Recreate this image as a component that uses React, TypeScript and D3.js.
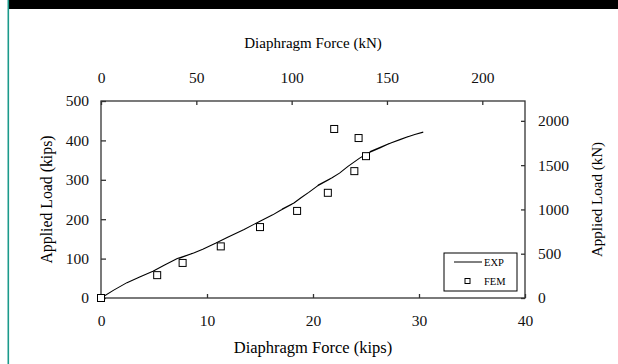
import React, {useEffect, useRef} from 'react';
import * as d3 from 'd3';

// EXP curve (diaphragm force kips, applied load kips), incl. small reload loops
const expForce = [0, 1.2, 2.45, 3.7, 4.9, 6.0, 7.2, 8.6, 7.4, 8.8, 9.6, 10.8, 12.0, 13.5, 15.0, 16.2, 16.9, 18.0, 17.1, 18.2, 18.9, 19.6, 20.4, 21.6, 20.5, 21.8, 22.5, 23.3, 24.4, 25.2, 26.3, 27.2, 25.4, 27.4, 28.2, 29.0, 28.6, 29.6, 30.4];
const expLoad = [0, 20, 39, 54, 68, 84, 100, 113, 101, 115, 124, 139, 155, 174, 195, 211, 222, 238, 226, 241, 255, 268, 284, 302, 287, 305, 317, 334, 355, 368, 381, 392, 372, 394, 402, 410, 406, 415, 421];

// FEM points
const femForce = [0, 5.3, 7.7, 11.3, 15.0, 18.5, 21.4, 22.0, 23.9, 24.3, 25.0];
const femLoad = [0, 58, 89, 131, 180, 221, 267, 429, 322, 406, 360];

const bottomTicks = [0, 10, 20, 30, 40];
const topTicks = [0, 50, 100, 150, 200];
const leftTicks = [0, 100, 200, 300, 400, 500];
const rightTicks = [0, 500, 1000, 1500, 2000];

const KN = 4.448;

export default function App() {
    const svgRef = useRef(null);

    useEffect(() => {
        document.body.style.margin = '0';
        document.body.style.overflow = 'hidden';
        document.documentElement.style.overflow = 'hidden';

        const W = 618, H = 364;
        const margin = {top: 101, right: 93, bottom: 66, left: 101};
        const width = W - margin.left - margin.right;
        const height = H - margin.top - margin.bottom;
        const font = "'Liberation Serif', 'Times New Roman', Times, serif";

        const root = d3.select(svgRef.current);
        root.selectAll('*').remove();
        root.attr('width', W).attr('height', H);

        root.append('rect').attr('width', W).attr('height', H).attr('fill', 'white');
        root.append('rect').attr('x', 8).attr('y', 0).attr('width', W - 8).attr('height', 9).attr('fill', '#000');
        root.append('rect').attr('x', 7.5).attr('y', 0).attr('width', 1.6).attr('height', H).attr('fill', '#1b9a8b');

        const svg = root.append('g').attr('transform', `translate(${margin.left},${margin.top})`);

        const x = d3.scaleLinear().domain([0, 40]).range([0, width]);
        const xTop = d3.scaleLinear().domain([0, 50 * KN]).range([0, width]);
        const y = d3.scaleLinear().domain([0, 500]).range([height, 0]);
        const yRight = d3.scaleLinear().domain([0, 500 * KN]).range([height, 0]);

        const styleAxis = (g, anchor, dy) => {
            g.select('.domain').remove();
            g.selectAll('line').attr('stroke', '#333').attr('stroke-width', 1.3);
            g.selectAll('text')
                .attr('font-family', font)
                .attr('font-size', '15.5px')
                .attr('fill', '#111')
                .attr('text-anchor', anchor)
                .attr('dy', dy);
        };

        svg.append('g')
            .attr('transform', `translate(0,${height})`)
            .call(d3.axisBottom(x).tickValues(bottomTicks).tickSizeInner(-4).tickPadding(17).tickFormat(d3.format('d')))
            .call(g => styleAxis(g, 'middle', '0.71em'));

        svg.append('g')
            .call(d3.axisTop(xTop).tickValues(topTicks).tickSizeInner(-4).tickPadding(18).tickFormat(d3.format('d')))
            .call(g => styleAxis(g, 'middle', 0));

        svg.append('g')
            .call(d3.axisLeft(y).tickValues(leftTicks).tickSizeInner(-5).tickPadding(12).tickFormat(d3.format('d')))
            .call(g => styleAxis(g, 'end', '0.32em'));

        svg.append('g')
            .attr('transform', `translate(${width},0)`)
            .call(d3.axisRight(yRight).tickValues(rightTicks).tickSizeInner(-4).tickPadding(13).tickFormat(d3.format('d')))
            .call(g => styleAxis(g, 'start', '0.32em'));

        svg.append('rect')
            .attr('width', width)
            .attr('height', height)
            .attr('fill', 'none')
            .attr('stroke', '#333')
            .attr('stroke-width', 1.3);

        const expData = expForce.map((f, i) => ({f, l: expLoad[i]}));
        const line = d3.line().x(d => x(d.f)).y(d => y(d.l));
        svg.append('path')
            .datum(expData)
            .attr('fill', 'none')
            .attr('stroke', '#000')
            .attr('stroke-width', 1.1)
            .attr('stroke-linejoin', 'round')
            .attr('d', line);

        const femData = femForce.map((f, i) => ({f, l: femLoad[i]}));
        svg.selectAll('.fem')
            .data(femData)
            .enter()
            .append('rect')
            .attr('class', 'fem')
            .attr('x', d => x(d.f) - 3.5)
            .attr('y', d => y(d.l) - 3.5)
            .attr('width', 7)
            .attr('height', 7)
            .attr('fill', 'white')
            .attr('stroke', '#000')
            .attr('stroke-width', 1);

        // legend
        const lg = svg.append('g').attr('transform', `translate(${width - 81},${height - 45})`);
        lg.append('rect')
            .attr('width', 73).attr('height', 38)
            .attr('fill', 'white').attr('stroke', '#000').attr('stroke-width', 1);
        lg.append('line').attr('x1', 10).attr('x2', 38).attr('y1', 9).attr('y2', 9).attr('stroke', '#000');
        lg.append('rect').attr('x', 21).attr('y', 25.5).attr('width', 5).attr('height', 5)
            .attr('fill', 'white').attr('stroke', '#000');
        lg.append('text').attr('x', 40).attr('y', 12.5).attr('font-family', font).attr('font-size', '10.5px').text('EXP');
        lg.append('text').attr('x', 40).attr('y', 32).attr('font-family', font).attr('font-size', '10.5px').text('FEM');

        // axis titles
        root.append('text')
            .attr('x', margin.left + width / 2)
            .attr('y', 48)
            .attr('text-anchor', 'middle')
            .attr('font-family', font)
            .attr('font-size', '15px')
            .text('Diaphragm Force (kN)');

        root.append('text')
            .attr('x', margin.left + width / 2)
            .attr('y', 353)
            .attr('text-anchor', 'middle')
            .attr('font-family', font)
            .attr('font-size', '16.5px')
            .text('Diaphragm Force (kips)');

        root.append('text')
            .attr('transform', `translate(52,${margin.top + height / 2}) rotate(-90)`)
            .attr('text-anchor', 'middle')
            .attr('font-family', font)
            .attr('font-size', '15.8px')
            .text('Applied Load (kips)');

        root.append('text')
            .attr('transform', `translate(602,${margin.top + height / 2}) rotate(-90)`)
            .attr('text-anchor', 'middle')
            .attr('font-family', font)
            .attr('font-size', '15px')
            .text('Applied Load (kN)');
    }, []);

    return (
        <div style={{position: 'absolute', left: 0, top: 0}}>
            <svg ref={svgRef} style={{display: 'block'}}></svg>
        </div>
    );
}
